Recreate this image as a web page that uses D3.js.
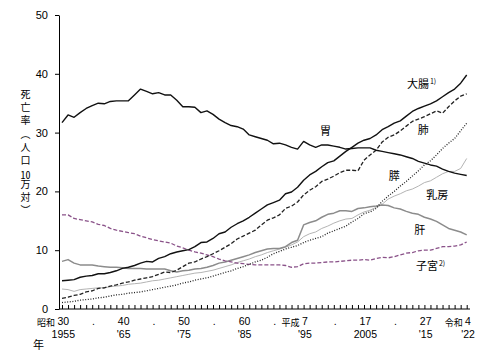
<!DOCTYPE html>
<html>
<head>
<meta charset="utf-8">
<script src="https://cdn.jsdelivr.net/npm/d3@7"></script>
<style>
  body { margin: 0; background: #fff; }
  #chart { position: relative; width: 483px; height: 352px; }
  #chart svg { position: absolute; left: 0; top: 0; }
  svg text { font-family: "Noto Sans CJK JP", "Noto Sans", sans-serif; fill: #000; }
  .ytitle {
    position: absolute; left: 19px; top: 89px;
    writing-mode: vertical-rl; font-family: "Noto Sans CJK JP", sans-serif;
    font-size: 10px; line-height: 12px; letter-spacing: 3.3px; color: #000;
  }
  .ytitle .tcy { text-combine-upright: all; }
  .xl {
    position: absolute; font-family: "Liberation Sans", sans-serif;
    font-size: 10.5px; line-height: 12.75px; color: #000; white-space: nowrap;
    text-align: center; transform: translateX(-50%);
  }
</style>
</head>
<body>
<div id="chart"></div>
<script>
// 1955 (昭和30) .. 2022 (令和4), one value per year
const years = d3.range(1955, 2023);

const stomach = [
  31.7, 33.0, 32.6, 33.4, 34.1, 34.6, 35.0, 34.9, 35.3, 35.4,
  35.4, 35.4, 36.4, 37.4, 37.0, 36.6, 36.8, 36.4, 36.4, 35.5,
  34.4, 34.4, 34.3, 33.4, 33.7, 33.1, 32.3, 31.7, 31.2, 31.0,
  30.6, 29.6, 29.3, 29.0, 28.7, 28.1, 28.2, 27.9, 27.5, 27.2,
  28.5, 27.9, 27.5, 27.9, 27.9, 27.7, 27.5, 27.2, 27.3, 27.4,
  27.4, 27.4, 27.0, 26.8, 26.6, 26.4, 26.2, 25.9, 25.6, 25.1,
  24.8, 24.5, 24.3, 23.8, 23.4, 23.1, 22.9, 22.7
];
const colon = [
  4.8, 4.9, 5.0, 5.4, 5.6, 5.7, 6.0, 6.0, 6.2, 6.5,
  6.9, 7.1, 7.4, 7.8, 8.1, 8.0, 8.6, 8.9, 9.4, 9.7,
  9.9, 10.1, 10.6, 11.3, 11.4, 12.0, 12.8, 13.1, 13.9, 14.5,
  15.0, 15.6, 16.3, 17.0, 17.7, 18.1, 18.5, 19.6, 19.9, 20.7,
  21.9, 22.8, 23.4, 24.2, 24.9, 25.2, 26.0, 26.8, 27.5, 28.2,
  28.7, 29.0, 29.6, 30.5, 31.0, 31.6, 32.0, 32.8, 33.6, 34.1,
  34.5, 34.9, 35.4, 36.1, 36.8, 37.4, 38.4, 39.8
];
const lung = [
  1.8, 2.0, 2.3, 2.5, 2.9, 3.1, 3.5, 3.6, 3.9, 4.1,
  4.4, 4.6, 4.9, 5.1, 5.3, 5.5, 5.9, 6.3, 6.2, 6.6,
  7.2, 7.8, 8.0, 8.5, 8.9, 9.4, 9.9, 10.5, 11.1, 11.9,
  12.4, 12.9, 13.4, 14.3, 15.1, 15.5, 16.0, 17.1, 17.5, 18.2,
  19.4, 20.2, 20.8, 21.7, 22.1, 22.6, 23.2, 23.6, 23.6, 23.5,
  25.3, 26.2, 27.0, 28.4, 29.2, 29.6, 30.3, 31.1, 31.9, 32.3,
  32.7, 33.2, 33.7, 33.3, 34.4, 35.4, 36.2, 36.6
];
const pancreas = [
  1.1, 1.2, 1.3, 1.5, 1.6, 1.7, 1.9, 2.0, 2.2, 2.4,
  2.5, 2.7, 2.8, 2.9, 3.1, 3.3, 3.5, 3.7, 3.9, 4.1,
  4.4, 4.6, 4.9, 5.1, 5.3, 5.6, 5.9, 6.2, 6.5, 6.9,
  7.2, 7.6, 8.0, 8.3, 8.8, 9.4, 9.8, 10.2, 10.5, 10.8,
  11.3, 11.7, 12.0, 12.3, 12.9, 13.3, 13.7, 14.1, 14.8, 15.4,
  16.2, 16.5, 17.1, 18.3, 19.2, 20.0, 20.9, 21.7, 22.6, 23.5,
  24.5, 25.2, 26.2, 27.3, 28.2, 29.0, 30.3, 31.6
];
const breast = [
  3.4, 3.3, 3.0, 3.3, 3.4, 3.5, 3.6, 3.6, 3.8, 3.9,
  4.0, 4.2, 4.3, 4.4, 4.6, 4.8, 4.9, 5.1, 5.3, 5.5,
  5.7, 5.9, 6.1, 6.2, 6.4, 6.6, 6.9, 7.2, 7.5, 7.9,
  8.2, 8.5, 8.9, 9.2, 9.6, 9.9, 10.2, 10.5, 10.9, 11.4,
  12.3, 12.8, 13.1, 13.7, 14.1, 14.6, 15.0, 15.3, 15.4, 16.0,
  16.5, 16.8, 17.3, 17.8, 18.7, 19.2, 19.6, 20.1, 20.4, 20.9,
  21.5, 21.8, 22.4, 23.0, 23.4, 23.4, 23.9, 25.6
];
const liver = [
  8.1, 8.4, 7.8, 7.5, 7.5, 7.5, 7.3, 7.2, 7.1, 7.1,
  7.0, 6.9, 6.9, 6.9, 6.8, 6.8, 6.8, 6.8, 6.5, 6.3,
  6.5, 6.6, 6.8, 6.9, 7.1, 7.4, 7.8, 8.0, 8.3, 8.6,
  8.9, 9.2, 9.6, 9.9, 10.2, 10.3, 10.3, 10.6, 11.3, 11.7,
  14.3, 14.7, 15.0, 15.6, 16.1, 16.3, 16.7, 16.7, 16.6, 17.1,
  17.2, 17.4, 17.5, 17.7, 17.6, 17.2, 17.0, 16.6, 16.3, 16.1,
  15.6, 15.3, 14.9, 14.3, 13.7, 13.4, 13.1, 12.6
];
const uterus = [
  16.0, 16.0, 15.4, 15.2, 15.0, 14.8, 14.4, 14.2, 13.7, 13.4,
  13.2, 13.0, 12.8, 12.4, 12.1, 11.8, 11.6, 11.4, 11.2, 10.7,
  10.4, 10.0, 9.7, 9.5, 9.2, 8.9, 8.5, 8.2, 8.0, 7.8,
  7.7, 7.6, 7.5, 7.5, 7.5, 7.5, 7.5, 7.4, 7.1, 7.2,
  7.7, 7.8, 7.8, 7.9, 8.0, 8.0, 8.1, 8.2, 8.3, 8.3,
  8.4, 8.3, 8.6, 8.8, 8.7, 8.9, 9.2, 9.5, 9.6, 9.9,
  10.0, 10.0, 10.3, 10.6, 10.6, 10.7, 10.9, 11.4
];

// x axis tick labels (two rows)
const labelYears = [1955, 1960, 1965, 1970, 1975, 1980, 1985, 1990, 1995, 2000, 2005, 2010, 2015, 2022];
const eraNums    = ["30", ".", "40", ".", "50", ".", "60", ".", "7", ".", "17", ".", "27", "4"];
const westLabels = ["1955", "", "'65", "", "'75", "", "'85", "", "'95", "", "2005", "", "'15", "'22"];
const eraNames   = [{ year: 1955, text: "昭和", num: "30" }, { year: 1995, text: "平成", num: "7" }, { year: 2022, text: "令和", num: "4" }];

const yTicks = [0, 10, 20, 30, 40, 50];

// series labels, anchored in data units
const seriesLabels = [
  { text: "大腸", sup: "1)", year: 2012.1, value: 37.6 },
  { text: "肺", sup: "", year: 2013.9, value: 29.8 },
  { text: "胃", sup: "", year: 1997.7, value: 29.6 },
  { text: "膵", sup: "", year: 2009.1, value: 21.9 },
  { text: "乳房", sup: "", year: 2015.3, value: 18.7 },
  { text: "肝", sup: "", year: 2013.3, value: 12.8 },
  { text: "子宮", sup: "2)", year: 2013.6, value: 6.6 }
];

const W = 483, H = 352;
const chart = d3.select("#chart");
const svg = chart.append("svg")
  .attr("width", W).attr("height", H);

const x = d3.scaleLinear().domain([1955, 2022]).range([62, 466.7]);
const y = d3.scaleLinear().domain([0, 50]).range([309, 15]);

// series: drawn light first, dark on top
const series = [
  { values: breast,   color: "#b4b4b4", width: 1,   dash: null },
  { values: liver,    color: "#8c8c8c", width: 1.5, dash: null },
  { values: uterus,   color: "#8a5289", width: 1.3, dash: "4,2" },
  { values: pancreas, color: "#222",    width: 1.3, dash: "1,1.6" },
  { values: lung,     color: "#222",    width: 1.3, dash: "4,2" },
  { values: stomach,  color: "#111",    width: 1.4, dash: null },
  { values: colon,    color: "#111",    width: 1.4, dash: null }
];

const line = d3.line()
  .x((d, i) => x(years[i]))
  .y(d => y(d));

svg.append("g").selectAll("path")
  .data(series)
  .enter().append("path")
    .attr("d", d => line(d.values))
    .attr("fill", "none")
    .attr("stroke", d => d.color)
    .attr("stroke-width", d => d.width)
    .attr("stroke-dasharray", d => d.dash)
    .attr("stroke-linejoin", "round");

// y axis
const yAxis = svg.append("g")
  .attr("transform", "translate(59,0)")
  .call(d3.axisLeft(y).tickValues(yTicks).tickSize(4).tickSizeOuter(0).tickPadding(7));
yAxis.selectAll("text").attr("font-size", 11).style("font-family", "'Liberation Sans'");
yAxis.select(".domain").attr("stroke", "#000");

// x axis: a tick every year, pointing up
const xAxis = svg.append("g")
  .attr("transform", "translate(0,309)")
  .call(d3.axisBottom(x).tickValues(years).tickSize(-4).tickSizeOuter(0).tickFormat(""));
xAxis.select(".domain").attr("d", "M59,0H470");

// x labels: era year over western year, one block per tick
chart.selectAll("div.xl")
  .data(labelYears)
  .enter().append("div")
    .attr("class", "xl")
    .style("left", d => (x(d) + 1.3) + "px")
    .style("top", "315.2px")
    .html((d, i) => eraNums[i] + "<br>" + westLabels[i]);

svg.append("g").selectAll("text")
  .data(eraNames)
  .enter().append("text")
    .attr("x", d => x(d.year) + 1.5 - d.num.length * 3 - 2.5)
    .attr("y", 325.5)
    .attr("text-anchor", "end")
    .attr("font-size", 9)
    .text(d => d.text);

svg.append("text")
  .attr("x", 33).attr("y", 349)
  .attr("font-size", 11)
  .text("年");

// vertical y axis title
chart.append("div")
  .attr("class", "ytitle")
  .html('死亡率（人口<span class="tcy">10</span>万対）');

// series labels
const lbl = svg.append("g").selectAll("text")
  .data(seriesLabels)
  .enter().append("text")
    .attr("x", d => x(d.year))
    .attr("y", d => y(d.value))
    .attr("font-size", 11);
lbl.append("tspan").text(d => d.text);
lbl.append("tspan")
  .attr("font-size", 7)
  .attr("dy", -4)
  .attr("dx", 1)
  .text(d => d.sup);
</script>
</body>
</html>
